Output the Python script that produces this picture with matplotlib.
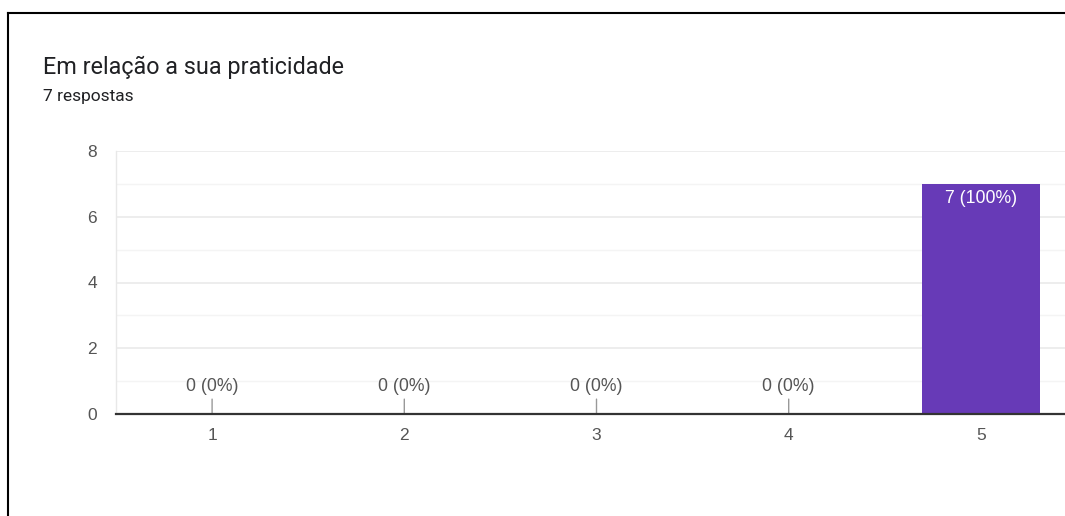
import matplotlib.pyplot as plt
from matplotlib.lines import Line2D

plt.rcParams['font.family'] = ['Liberation Sans', 'DejaVu Sans']

# survey answers
titulo = "Em relação a sua praticidade"
subtitulo = "7 respostas"
notas = [1, 2, 3, 4, 5]
respostas = [0, 0, 0, 0, 7]
total = 7
y_ticks = [0, 2, 4, 6, 8]

roxo = "#673ab7"
cinza_txt = "#555555"

fig = plt.figure(figsize=(10.65, 5.16), dpi=100)
ax = fig.add_axes([116 / 1065, 1 - 413.7 / 516, 961 / 1065, 262.4 / 516])

ax.bar(notas, respostas, width=0.614, color=roxo, zorder=3)

ax.set_xlim(0.5, 5.5)
ax.set_ylim(0, 8)
ax.set_yticks(y_ticks)
ax.set_yticks([1, 3, 5, 7], minor=True)
ax.set_xticks(notas)
ax.grid(axis='y', which='major', color='#e8e8e8', linewidth=1.1, zorder=0)
ax.grid(axis='y', which='minor', color='#f4f4f4', linewidth=1.0, zorder=0)
ax.tick_params(axis='y', which='both', length=0, pad=13.5, labelsize=12.5, labelcolor=cinza_txt)
ax.tick_params(axis='x', length=0, pad=10, labelsize=12.5, labelcolor=cinza_txt)

for s in ['top', 'right']:
    ax.spines[s].set_visible(False)
ax.spines['left'].set_color('#e8e8e8')
ax.spines['left'].set_linewidth(1.0)
ax.spines['bottom'].set_color('#333333')
ax.spines['bottom'].set_linewidth(1.6)
ax.spines['bottom'].set_zorder(4)

for x, v in zip(notas, respostas):
    rotulo = f"{v} ({round(100 * v / total)}%)"
    if v == 0:
        ax.annotate(rotulo, xy=(x, v), xytext=(0, 13.5), textcoords='offset points',
                    ha='center', va='bottom', fontsize=12.7, color=cinza_txt,
                    arrowprops=dict(arrowstyle='-', color='#999999', lw=1.0,
                                    shrinkA=1, shrinkB=0))
    else:
        ax.annotate(rotulo, xy=(x, v), xytext=(0, -4.5), textcoords='offset points',
                    ha='center', va='top', fontsize=12.7, color='white', zorder=5)

fig.text(43 / 1065, 1 - 67 / 516, titulo, fontsize=16.8, color='#202124', va='center',
         family=['Roboto', 'DejaVu Sans'])
fig.text(43 / 1065, 1 - 97 / 516, subtitulo, fontsize=12.5, color='#202124', va='center',
         family=['Roboto', 'DejaVu Sans'])

# screenshot frame on the top and left
fig.add_artist(Line2D([8 / 1065, 8 / 1065], [0, 1 - 13 / 516], color='black', lw=1.5))
fig.add_artist(Line2D([8 / 1065, 1], [1 - 13 / 516, 1 - 13 / 516], color='black', lw=1.5))

fig.savefig('out.png', dpi=100)
